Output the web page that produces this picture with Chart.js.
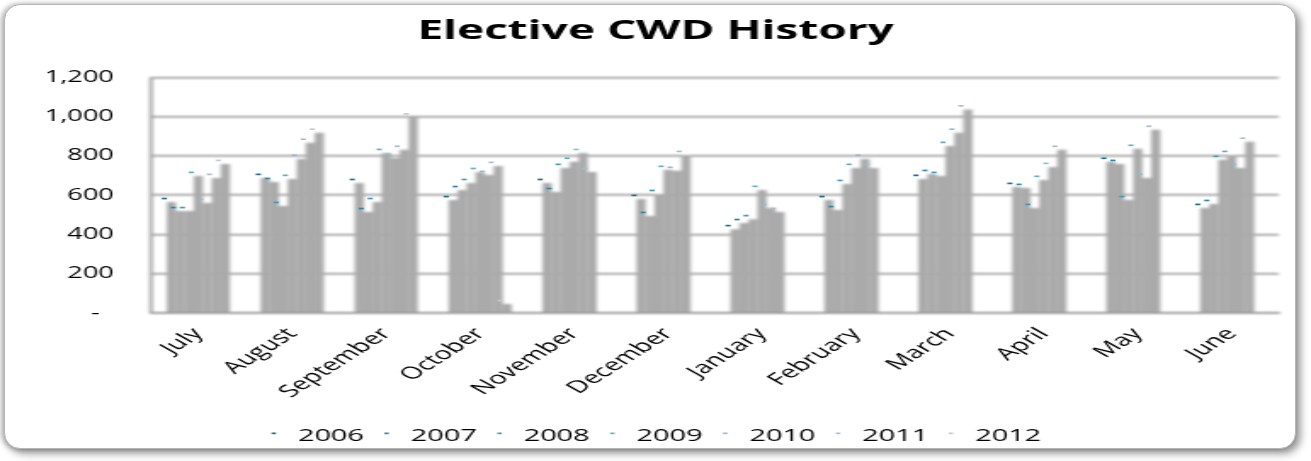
<!DOCTYPE html>
<html>
<head>
<meta charset="utf-8">
<script src="https://cdn.jsdelivr.net/npm/chart.js@4/dist/chart.umd.min.js"></script>
<style>
  html, body { margin: 0; padding: 0; background: #fff; }
  body { width: 1311px; height: 461px; position: relative; overflow: hidden; }
  #frame {
    position: absolute; left: 4px; top: 4px; width: 1290px; height: 443px;
    border: 1px solid #b5b5b5; border-radius: 16px; background: #fff;
    box-shadow: 4px 4px 9px rgba(0,0,0,0.45), -3px 0 5px rgba(0,0,0,0.25);
  }
  /* chart is drawn narrow and stretched sideways to the full width */
  #wrap {
    position: absolute; left: 0; top: 0; width: 771px; height: 461px;
    transform-origin: 0 0; transform: scaleX(1.7004);
  }
</style>
</head>
<body>
<div id="frame"></div>
<div id="wrap"><canvas id="canvas" width="771" height="461"></canvas></div>
<script>
var months = ['July', 'August', 'September', 'October', 'November', 'December',
              'January', 'February', 'March', 'April', 'May', 'June'];
var years = ['2006', '2007', '2008', '2009', '2010', '2011', '2012'];

var y2006 = [565, 688, 662, 575, 662, 581, 427, 575, 683, 642, 770, 535];
var y2007 = [519, 667, 514, 626, 616, 494, 458, 524, 708, 637, 759, 555];
var y2008 = [519, 545, 565, 662, 739, 606, 478, 657, 698, 535, 575, 780];
var y2009 = [698, 683, 815, 718, 770, 729, 627, 739, 851, 678, 836, 805];
var y2010 = [560, 785, 790, 703, 815, 724, 535, 785, 918, 744, 688, 739];
var y2011 = [688, 867, 831, 749, 718, 805, 514, 739, 1037, 831, 933, 872];
var y2012 = [759, 918, 996, 46, null, null, null, null, null, null, null, null];

var yTicks = [0, 200, 400, 600, 800, 1000, 1200];

var series = [y2006, y2007, y2008, y2009, y2010, y2011, y2012];
var capColors = ['#1d6b84', '#2b87a3', '#3d9ab5', '#62acc2', '#8fbccb', '#a9bdc5', '#c6cacc'];

var FONT = 'Open Sans';

// bars are drawn crisp, then the plot area is blurred as a whole so the
// grey columns merge; small coloured caps sit up and left of each top
var softBars = {
    id: 'softBars',
    afterDatasetsDraw: function(chart) {
        var ctx = chart.ctx, a = chart.chartArea;
        var x0 = Math.floor(a.left) - 4, y0 = Math.floor(a.top) - 4;
        var w = Math.ceil(a.right - a.left) + 8, h = Math.ceil(a.bottom - a.top) + 8;
        var off = document.createElement('canvas');
        off.width = w;
        off.height = h;
        off.getContext('2d').drawImage(chart.canvas, x0, y0, w, h, 0, 0, w, h);
        ctx.save();
        ctx.clearRect(x0, y0, w, h);
        ctx.filter = 'blur(1.2px)';
        ctx.drawImage(off, x0, y0);
        ctx.restore();

        ctx.save();
        chart.data.datasets.forEach(function(ds, i) {
            var meta = chart.getDatasetMeta(i);
            meta.data.forEach(function(bar, j) {
                if (ds.data[j] === null) return;
                ctx.fillStyle = capColors[i];
                ctx.fillRect(bar.x - 5.6, bar.y - 4.4, 3, 1.7);
            });
        });
        ctx.restore();
    },
    afterDraw: function(chart) {
        // tiny dash keys in the legend
        var ctx = chart.ctx;
        ctx.save();
        chart.legend.legendHitBoxes.forEach(function(box, i) {
            ctx.fillStyle = capColors[i];
            ctx.fillRect(box.left + 1, box.top + box.height / 2 - 4, 2.6, 1.7);
        });
        ctx.restore();
    }
};

var datasets = [];
for (var i = 0; i < years.length; i++) {
    datasets.push({
        label: years[i],
        data: series[i],
        backgroundColor: '#aaaaaa',
        borderWidth: 0,
        categoryPercentage: 0.67,
        barPercentage: 1.02
    });
}

var config = {
    type: 'bar',
    data: { labels: months, datasets: datasets },
    plugins: [softBars],
    options: {
        responsive: false,
        animation: false,
        layout: { padding: { left: 0, right: 0, top: 0, bottom: 6 } },
        plugins: {
            title: {
                display: true,
                text: 'Elective CWD History',
                color: '#000',
                font: { family: FONT, size: 27, weight: 'bold' },
                padding: { top: 15, bottom: 30 }
            },
            legend: {
                position: 'bottom',
                labels: {
                    color: '#000',
                    font: { family: FONT, size: 17 },
                    boxWidth: 8,
                    boxHeight: 2,
                    padding: 11,
                    generateLabels: function(chart) {
                        return years.map(function(y, i) {
                            return { text: y, fillStyle: 'rgba(0,0,0,0)', strokeStyle: 'rgba(0,0,0,0)',
                                     lineWidth: 0, datasetIndex: i, fontColor: '#000' };
                        });
                    }
                }
            },
            tooltip: { enabled: false }
        },
        scales: {
            x: {
                z: 1,
                grid: { display: false },
                border: { display: true, color: '#8a8a8a', width: 1.6 },
                ticks: {
                    color: '#000',
                    font: { family: FONT, size: 17 },
                    minRotation: 47,
                    maxRotation: 47,
                    autoSkip: false,
                    padding: 3
                },
                afterFit: function(scale) { scale.height = 104; }
            },
            y: {
                z: 1,
                min: 0,
                max: 1200,
                afterBuildTicks: function(scale) {
                    scale.ticks = yTicks.map(function(v) { return { value: v }; });
                },
                grid: { color: '#8a8a8a', lineWidth: 1.6, drawTicks: false },
                border: { display: true, color: '#8a8a8a', width: 1.6 },
                ticks: {
                    color: '#000',
                    font: { family: FONT, size: 16 },
                    padding: 22,
                    callback: function(v) {
                        return v === 0 ? '-  ' : v.toLocaleString('en-US');
                    }
                },
                afterFit: function(scale) { scale.width = 89; }
            },
            // empty right-hand gutter so title and legend stay centred on the box
            gutter: {
                type: 'linear',
                position: 'right',
                display: true,
                grid: { display: false, drawTicks: false },
                border: { display: false },
                ticks: { display: false },
                afterFit: function(scale) { scale.width = 19; }
            }
        }
    }
};

window.addEventListener('load', function() {
    var ctx = document.getElementById('canvas').getContext('2d');
    window.BarChart = new Chart(ctx, config);
});
</script>
</body>
</html>
